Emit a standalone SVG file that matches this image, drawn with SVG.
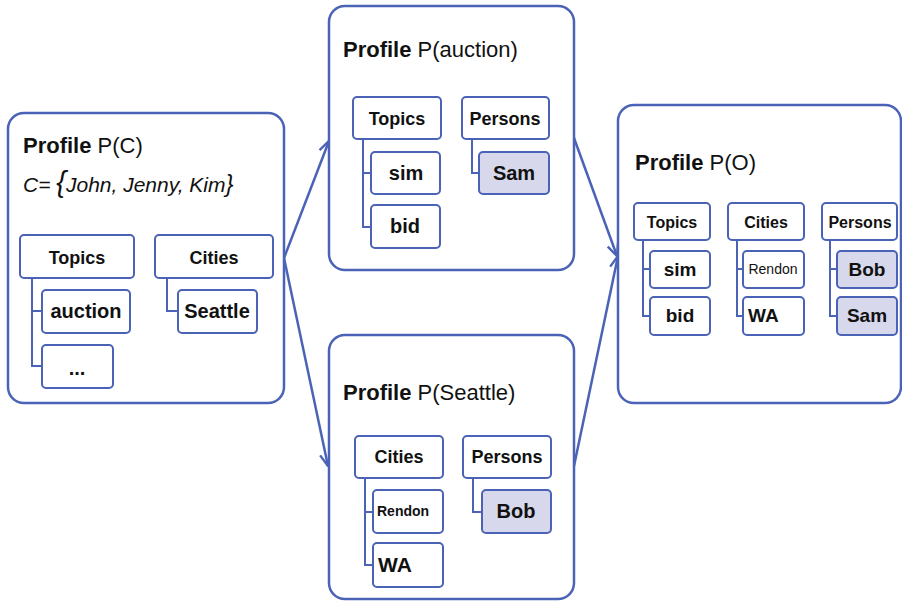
<svg xmlns="http://www.w3.org/2000/svg" width="902" height="606" viewBox="0 0 902 606">
<style>
text{font-family:"Liberation Sans",Arial,sans-serif;fill:#111}
.panel{fill:#fff;stroke:#4a63b6;stroke-width:2.5}
.box{fill:#fff;stroke:#4a63b6;stroke-width:2}
.hl{fill:#d7d8ec;stroke:#4a63b6;stroke-width:2}
.tree{fill:none;stroke:#4a63b6;stroke-width:2}
.title{font-size:22px}
.hd{font-size:18px;font-weight:bold;text-anchor:middle}
.hds{font-size:16px;font-weight:bold;text-anchor:middle}
.ch{font-size:20px;font-weight:bold;text-anchor:middle}
.chs{font-size:19px;font-weight:bold;text-anchor:middle}
.arrow{fill:none;stroke:#4a63b6;stroke-width:2.5}
</style>
<defs>
<marker id="ah" viewBox="0 0 14 14" refX="13" refY="7" markerWidth="14" markerHeight="14" markerUnits="userSpaceOnUse" orient="auto">
<path d="M1,1.5 L13,7 L1,12.5" fill="none" stroke="#4a63b6" stroke-width="2.4"/>
</marker>
</defs>
<g id="connectors">
<line class="arrow" x1="284" y1="258" x2="329" y2="141" marker-end="url(#ah)"/>
<line class="arrow" x1="284" y1="258" x2="328" y2="466" marker-end="url(#ah)"/>
<line class="arrow" x1="574" y1="138" x2="617" y2="256" marker-end="url(#ah)"/>
<line class="arrow" x1="574" y1="466" x2="618" y2="256" marker-end="url(#ah)"/>
</g>
<g id="profile-c">
<rect class="panel" x="8" y="113" width="276" height="290" rx="16"/>
<text class="title" x="23" y="153"><tspan font-weight="bold">Profile</tspan> P(C)</text>
<text x="23" y="192" font-size="21" font-style="italic">C= <tspan font-size="29">{</tspan>John, Jenny, Kim<tspan font-size="24">}</tspan></text>
<path class="tree" d="M32,278 V366 H42 M32,311 H42"/>
<path class="tree" d="M167,278 V311 H178"/>
<rect class="box" x="20" y="235" width="114" height="43" rx="4"/>
<text class="hd" x="77" y="264">Topics</text>
<rect class="box" x="155" y="235" width="118" height="43" rx="4"/>
<text class="hd" x="214" y="264">Cities</text>
<rect class="box" x="42" y="290" width="88" height="43" rx="4"/>
<text class="ch" x="86" y="318">auction</text>
<rect class="box" x="42" y="345" width="71" height="43" rx="4"/>
<text class="ch" x="77" y="375">...</text>
<rect class="box" x="178" y="290" width="79" height="43" rx="4"/>
<text class="ch" x="217" y="318">Seattle</text>
</g>
<g id="profile-auction">
<rect class="panel" x="329" y="6" width="245" height="264" rx="16"/>
<text class="title" x="343" y="57"><tspan font-weight="bold">Profile</tspan> P(auction)</text>
<path class="tree" d="M363,139 V227 H371 M363,173 H371"/>
<path class="tree" d="M472,139 V173 H479"/>
<rect class="box" x="353" y="97" width="88" height="42" rx="4"/>
<text class="hd" x="397" y="125">Topics</text>
<rect class="box" x="462" y="97" width="87" height="42" rx="4"/>
<text class="hd" x="505" y="125">Persons</text>
<rect class="box" x="371" y="152" width="69" height="42" rx="4"/>
<text class="ch" x="406" y="180">sim</text>
<rect class="box" x="371" y="205" width="69" height="43" rx="4"/>
<text class="ch" x="405" y="233">bid</text>
<rect class="hl" x="479" y="152" width="70" height="42" rx="4"/>
<text class="ch" x="514" y="180">Sam</text>
</g>
<g id="profile-seattle">
<rect class="panel" x="329" y="335" width="245" height="264" rx="16"/>
<text class="title" x="343" y="400"><tspan font-weight="bold">Profile</tspan> P(Seattle)</text>
<path class="tree" d="M365,478 V565 H373 M365,512 H373"/>
<path class="tree" d="M473,478 V512 H482"/>
<rect class="box" x="355" y="436" width="88" height="42" rx="4"/>
<text class="hd" x="399" y="463">Cities</text>
<rect class="box" x="463" y="436" width="88" height="42" rx="4"/>
<text class="hd" x="507" y="463">Persons</text>
<rect class="box" x="373" y="490" width="70" height="43" rx="4"/>
<text x="377" y="516" font-size="14" font-weight="bold">Rendon</text>
<rect class="box" x="373" y="543" width="70" height="44" rx="4"/>
<text x="378" y="572" font-size="21" font-weight="bold">WA</text>
<rect class="hl" x="482" y="490" width="69" height="43" rx="4"/>
<text class="ch" x="516" y="518">Bob</text>
</g>
<g id="profile-o">
<rect class="panel" x="618" y="105" width="283" height="298" rx="16"/>
<text class="title" x="635" y="170"><tspan font-weight="bold">Profile</tspan> P(O)</text>
<path class="tree" d="M643,240 V316 H650 M643,269 H650"/>
<path class="tree" d="M737,240 V316 H743 M737,269 H743"/>
<path class="tree" d="M830,240 V316 H837 M830,269 H837"/>
<rect class="box" x="634" y="203" width="76" height="37" rx="4"/>
<text class="hds" x="672" y="228">Topics</text>
<rect class="box" x="728" y="203" width="76" height="37" rx="4"/>
<text class="hds" x="766" y="228">Cities</text>
<rect class="box" x="822" y="203" width="75" height="37" rx="4"/>
<text class="hds" x="860" y="228">Persons</text>
<rect class="box" x="650" y="251" width="60" height="37" rx="4"/>
<text class="chs" x="680" y="276">sim</text>
<rect class="box" x="650" y="297" width="60" height="38" rx="4"/>
<text class="chs" x="680" y="322">bid</text>
<rect class="box" x="743" y="251" width="61" height="37" rx="4"/>
<text x="773" y="274" font-size="14" text-anchor="middle">Rendon</text>
<rect class="box" x="743" y="297" width="61" height="38" rx="4"/>
<text x="748" y="322" font-size="19" font-weight="bold">WA</text>
<rect class="hl" x="837" y="251" width="60" height="37" rx="4"/>
<text class="chs" x="867" y="276">Bob</text>
<rect class="hl" x="837" y="297" width="60" height="38" rx="4"/>
<text class="chs" x="867" y="322">Sam</text>
</g>
</svg>
